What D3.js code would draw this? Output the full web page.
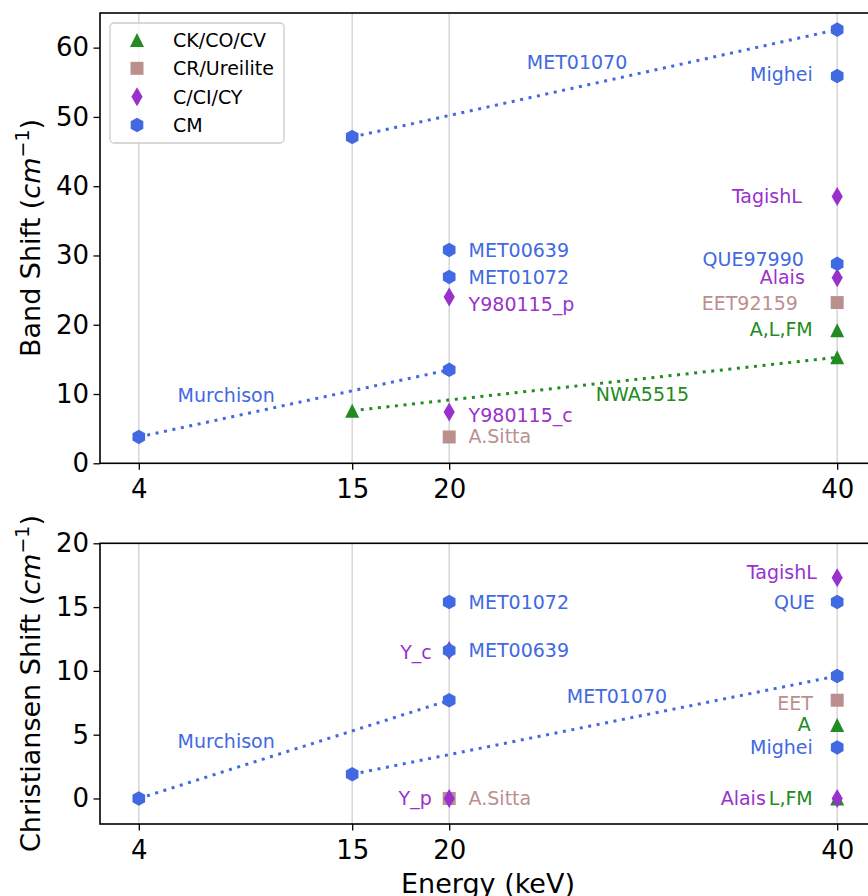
<!DOCTYPE html>
<html>
<head>
<meta charset="utf-8">
<script src="https://cdn.jsdelivr.net/npm/d3@7"></script>
<style>
  body { margin: 0; background: #fff; }
  svg { display: block; font-family: "DejaVu Sans", sans-serif; }
</style>
</head>
<body>
<div id="chart"></div>
<script>
// ---- data ----
const energyTicks = [4, 15, 20, 40];
const groups = ["CK/CO/CV", "CR/Ureilite", "C/CI/CY", "CM"];
const bandTicks = [0, 10, 20, 30, 40, 50, 60];
const christTicks = [0, 5, 10, 15, 20];

// [group, energy (keV), shift]
const bandPoints = [
  ["CK/CO/CV", 15, 7.6], ["CK/CO/CV", 40, 15.3], ["CK/CO/CV", 40, 19.2],
  ["CR/Ureilite", 20, 3.8], ["CR/Ureilite", 40, 23.2],
  ["C/CI/CY", 20, 24.0], ["C/CI/CY", 20, 7.4], ["C/CI/CY", 40, 38.5], ["C/CI/CY", 40, 26.8],
  ["CM", 4, 3.8], ["CM", 15, 47.1], ["CM", 20, 30.8], ["CM", 20, 26.9], ["CM", 20, 13.5],
  ["CM", 40, 62.6], ["CM", 40, 55.9], ["CM", 40, 28.8]
];
// dotted connections: [group, e1, v1, e2, v2]
const bandLines = [
  ["CM", 4, 3.8, 20, 13.5],
  ["CM", 15, 47.1, 40, 62.6],
  ["CK/CO/CV", 15, 7.6, 40, 15.3]
];
// [text, energy, shift, anchor, group]
const bandLabels = [
  ["MET01070", 24.0, 57.9, "start", "CM"],
  ["Mighei", 38.74, 56.2, "end", "CM"],
  ["TagishL", 38.18, 38.6, "end", "C/CI/CY"],
  ["MET00639", 21.0, 30.8, "start", "CM"],
  ["QUE97990", 38.28, 29.5, "end", "CM"],
  ["MET01072", 21.0, 26.9, "start", "CM"],
  ["Alais", 38.33, 26.9, "end", "C/CI/CY"],
  ["Y980115_p", 21.0, 23.0, "start", "C/CI/CY"],
  ["EET92159", 37.97, 23.1, "end", "CR/Ureilite"],
  ["A,L,FM", 38.74, 19.4, "end", "CK/CO/CV"],
  ["Murchison", 6.0, 9.9, "start", "CM"],
  ["NWA5515", 27.56, 10.0, "start", "CK/CO/CV"],
  ["Y980115_c", 21.0, 7.0, "start", "C/CI/CY"],
  ["A.Sitta", 21.0, 3.9, "start", "CR/Ureilite"]
];

const christPoints = [
  ["CK/CO/CV", 40, 5.75], ["CK/CO/CV", 40, 0],
  ["CR/Ureilite", 20, 0], ["CR/Ureilite", 40, 7.7],
  ["C/CI/CY", 20, 11.6], ["C/CI/CY", 20, 0], ["C/CI/CY", 40, 17.3], ["C/CI/CY", 40, 0],
  ["CM", 4, 0], ["CM", 15, 1.9], ["CM", 20, 7.7], ["CM", 20, 11.6], ["CM", 20, 15.4],
  ["CM", 40, 9.6], ["CM", 40, 15.4], ["CM", 40, 4.0]
];
const christLines = [
  ["CM", 4, 0, 20, 7.7],
  ["CM", 15, 1.9, 40, 9.6]
];
const christLabels = [
  ["TagishL", 38.95, 17.7, "end", "C/CI/CY"],
  ["QUE", 38.85, 15.4, "end", "CM"],
  ["MET01072", 21.0, 15.4, "start", "CM"],
  ["MET00639", 21.0, 11.6, "start", "CM"],
  ["Y_c", 19.1, 11.5, "end", "C/CI/CY"],
  ["MET01070", 26.06, 8.0, "start", "CM"],
  ["EET", 38.74, 7.5, "end", "CR/Ureilite"],
  ["A", 38.64, 5.8, "end", "CK/CO/CV"],
  ["Mighei", 38.74, 4.0, "end", "CM"],
  ["Alais", 36.32, 0, "end", "C/CI/CY"],
  ["L,FM", 38.74, 0, "end", "CK/CO/CV"],
  ["A.Sitta", 21.0, 0, "start", "CR/Ureilite"],
  ["Y_p", 19.1, 0, "end", "C/CI/CY"],
  ["Murchison", 6.0, 4.5, "start", "CM"]
];

// ---- styles ----
const colors = {
  "CK/CO/CV": "#228B22",
  "CR/Ureilite": "#BC8F8F",
  "C/CI/CY": "#9932CC",
  "CM": "#4169E1"
};

const W = 868, H = 896;
const svg = d3.select("#chart").append("svg")
  .attr("width", W).attr("height", H);
svg.append("rect").attr("width", W).attr("height", H).attr("fill", "#fff");

// shared x scale (right spine falls just outside the picture)
const x = d3.scaleLinear().domain([2, 42]).range([100, 876]);

function markerPath(group) {
  if (group === "CK/CO/CV") return "M0,-7L7,7L-7,7Z";
  if (group === "CR/Ureilite") return "M-6.5,-6.5H6.5V6.5H-6.5Z";
  if (group === "C/CI/CY") return "M0,-9.5L5.6,0L0,9.5L-5.6,0Z";
  // hexagon, pointy top
  const r = 7.3, pts = [];
  for (let k = 0; k < 6; k++) {
    const a = (-90 + 60 * k) * Math.PI / 180;
    pts.push([r * Math.cos(a), r * Math.sin(a)]);
  }
  return "M" + pts.map(p => p[0].toFixed(2) + "," + p[1].toFixed(2)).join("L") + "Z";
}

function drawPanel(top, bottom, yDomain, ticks, points, lines, labels) {
  const y = d3.scaleLinear().domain(yDomain).range([bottom, top]);
  const g = svg.append("g");

  // vertical grid at the energies
  g.selectAll(".grid").data(energyTicks).join("line")
    .attr("x1", d => x(d)).attr("x2", d => x(d))
    .attr("y1", top).attr("y2", bottom)
    .attr("stroke", "#d6d6d6").attr("stroke-width", 1.5);

  // dotted trend lines
  g.selectAll(".trend").data(lines).join("line")
    .attr("x1", d => x(d[1])).attr("y1", d => y(d[2]))
    .attr("x2", d => x(d[3])).attr("y2", d => y(d[4]))
    .attr("stroke", d => colors[d[0]])
    .attr("stroke-width", 3)
    .attr("stroke-dasharray", "3,5.6");

  // markers, in legend order so later groups sit on top
  g.selectAll(".pt").data(points).join("path")
    .attr("transform", d => "translate(" + x(d[1]) + "," + y(d[2]) + ")")
    .attr("d", d => markerPath(d[0]))
    .attr("fill", d => colors[d[0]]);

  // annotations
  g.selectAll(".lab").data(labels).join("text")
    .attr("x", d => x(d[1])).attr("y", d => y(d[2]))
    .attr("dy", "0.36em")
    .attr("text-anchor", d => d[3])
    .attr("fill", d => colors[d[4]])
    .attr("font-size", 19)
    .text(d => d[0]);

  // axes
  const yAxis = g.append("g").attr("transform", "translate(100,0)")
    .call(d3.axisLeft(y).tickValues(ticks).tickSize(6.5).tickSizeOuter(0).tickPadding(4.5));
  const xAxis = g.append("g").attr("transform", "translate(0," + bottom + ")")
    .call(d3.axisBottom(x).tickValues(energyTicks).tickSize(6.5).tickSizeOuter(0).tickPadding(10));
  [xAxis, yAxis].forEach(a => {
    a.select(".domain").remove();
    a.selectAll("line").attr("stroke", "#000").attr("stroke-width", 1.3);
    a.selectAll("text").attr("font-size", 26).attr("fill", "#000")
      .attr("font-family", "DejaVu Sans");
  });

  // frame
  g.append("rect")
    .attr("x", 100).attr("y", top)
    .attr("width", 776).attr("height", bottom - top)
    .attr("fill", "none").attr("stroke", "#000").attr("stroke-width", 1.6);
  return y;
}

drawPanel(13, 463.3, [0, 65], bandTicks, bandPoints, bandLines, bandLabels);
drawPanel(543.3, 824, [-2, 20], christTicks, christPoints, christLines, christLabels);

// y labels with cm^-1
function yLabel(cy, name) {
  const t = svg.append("text")
    .attr("transform", "translate(40," + cy + ") rotate(-90)")
    .attr("text-anchor", "middle")
    .attr("font-size", 27).attr("fill", "#000");
  t.append("tspan").text(name + " (");
  t.append("tspan").attr("font-style", "italic").text("cm");
  t.append("tspan").attr("font-size", 19).attr("dy", -11).text("\u22121");
  t.append("tspan").attr("dy", 11).text(")");
}
yLabel(238, "Band Shift");
yLabel(683.5, "Christiansen Shift");

svg.append("text")
  .attr("x", 488).attr("y", 893)
  .attr("text-anchor", "middle")
  .attr("font-size", 27).attr("fill", "#000")
  .text("Energy (keV)");

// legend
const legend = svg.append("g");
legend.append("rect")
  .attr("x", 110).attr("y", 23).attr("width", 174).attr("height", 120)
  .attr("rx", 4)
  .attr("fill", "#fff").attr("fill-opacity", 0.8)
  .attr("stroke", "#cccccc").attr("stroke-width", 1.3);
const legendRow = d3.scaleLinear().domain([0, 3]).range([40, 125]);
groups.forEach((grp, i) => {
  legend.append("path")
    .attr("transform", "translate(137," + legendRow(i) + ")")
    .attr("d", markerPath(grp))
    .attr("fill", colors[grp]);
  legend.append("text")
    .attr("x", 173).attr("y", legendRow(i)).attr("dy", "0.36em")
    .attr("font-size", 19).attr("fill", "#000")
    .text(grp);
});
</script>
</body>
</html>
